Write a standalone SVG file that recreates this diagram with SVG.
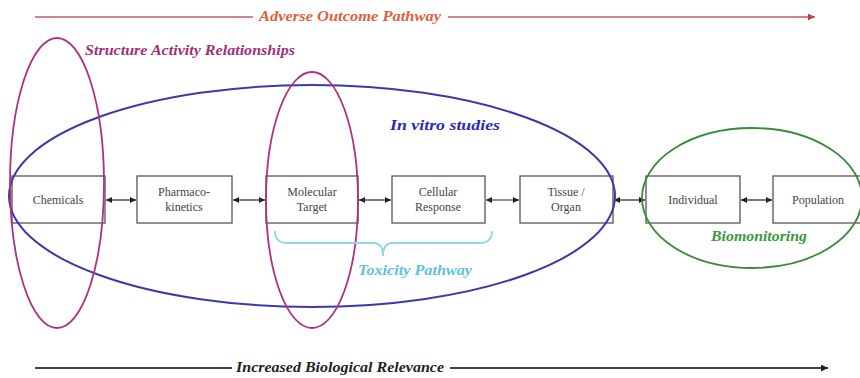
<svg xmlns="http://www.w3.org/2000/svg" width="860" height="378" viewBox="0 0 860 378">
<style>
.box{fill:#fff;stroke:#555;stroke-width:1.3}
.lbl{font-family:"Liberation Serif","Times New Roman","DejaVu Serif",serif;font-size:12px;fill:#444;text-anchor:middle}
.ttl{font-family:"Liberation Serif","Times New Roman","DejaVu Serif",serif;font-style:italic;font-weight:bold;font-size:14px}
.conn{stroke:#222;stroke-width:1.2;fill:none;marker-start:url(#as);marker-end:url(#ae)}
</style>
<defs>
<marker id="ae" viewBox="0 0 8 8" refX="8" refY="4" markerWidth="6" markerHeight="6" markerUnits="userSpaceOnUse" orient="auto"><path d="M0,0 L8,4 L0,8 z" fill="#222"/></marker>
<marker id="as" viewBox="0 0 8 8" refX="0" refY="4" markerWidth="6" markerHeight="6" markerUnits="userSpaceOnUse" orient="auto"><path d="M8,0 L0,4 L8,8 z" fill="#222"/></marker>
<marker id="ar" viewBox="0 0 8 8" refX="8" refY="4" markerWidth="7" markerHeight="7" markerUnits="userSpaceOnUse" orient="auto"><path d="M0,0 L8,4 L0,8 z" fill="#c8404a"/></marker>
<marker id="ak" viewBox="0 0 8 8" refX="8" refY="4" markerWidth="7" markerHeight="7" markerUnits="userSpaceOnUse" orient="auto"><path d="M0,0 L8,4 L0,8 z" fill="#222"/></marker>
</defs>
<rect width="860" height="378" fill="#fff"/>

<g id="aop">
<line x1="35" y1="17" x2="253" y2="17" stroke="#d4808a" stroke-width="2"/>
<line x1="448" y1="17" x2="815" y2="17" stroke="#d4808a" stroke-width="2" marker-end="url(#ar)"/>
<text x="350" y="21" class="ttl" fill="#e0603a" text-anchor="middle" textLength="182" lengthAdjust="spacingAndGlyphs">Adverse Outcome Pathway</text>
</g>

<g id="sar-label"><text x="190" y="55" class="ttl" fill="#a0307a" text-anchor="middle" textLength="210" lengthAdjust="spacingAndGlyphs">Structure Activity Relationships</text></g>

<g id="nodes">
<g id="chemicals"><rect class="box" x="12" y="176" width="93" height="47"/><text class="lbl" x="58" y="204">Chemicals</text></g>
<g id="pharmacokinetics"><rect class="box" x="137" y="176" width="95" height="47"/><text class="lbl" x="184" y="196">Pharmaco-</text><text class="lbl" x="184" y="211">kinetics</text></g>
<g id="molecular"><rect class="box" x="266" y="176" width="92" height="47"/><text class="lbl" x="312" y="196">Molecular</text><text class="lbl" x="312" y="211">Target</text></g>
<g id="cellular"><rect class="box" x="392" y="176" width="93" height="47"/><text class="lbl" x="438" y="196">Cellular</text><text class="lbl" x="438" y="211">Response</text></g>
<g id="tissue"><rect class="box" x="520" y="176" width="93" height="47"/><text class="lbl" x="566" y="196">Tissue /</text><text class="lbl" x="566" y="211">Organ</text></g>
<g id="individual"><rect class="box" x="646" y="176" width="94" height="47"/><text class="lbl" x="693" y="204">Individual</text></g>
<g id="population"><rect class="box" x="773" y="176" width="88" height="47"/><text class="lbl" x="818" y="204">Population</text></g>
</g>

<g id="connectors">
<line class="conn" x1="106" y1="200" x2="136" y2="200"/>
<line class="conn" x1="233" y1="200" x2="265" y2="200"/>
<line class="conn" x1="359" y1="200" x2="391" y2="200"/>
<line class="conn" x1="486" y1="200" x2="519" y2="200"/>
<line class="conn" x1="614" y1="200" x2="645" y2="200"/>
<line class="conn" x1="741" y1="200" x2="772" y2="200"/>
</g>

<g id="invitro">
<ellipse cx="312" cy="196" rx="303" ry="111" fill="none" stroke="#3a3aa8" stroke-width="2"/>
<text x="445" y="130" class="ttl" fill="#2a2ab8" text-anchor="middle" textLength="110" lengthAdjust="spacingAndGlyphs">In vitro studies</text>
</g>

<g id="sar-ellipses">
<ellipse cx="57" cy="183" rx="47" ry="145" fill="none" stroke="#b03080" stroke-width="1.8"/>
<ellipse cx="312" cy="200" rx="46" ry="128" fill="none" stroke="#b03080" stroke-width="1.8"/>
</g>

<g id="biomonitoring">
<ellipse cx="752" cy="198" rx="110" ry="70" fill="none" stroke="#3a8a3a" stroke-width="1.8"/>
<text x="759" y="241" class="ttl" fill="#3a9a3a" text-anchor="middle" textLength="96" lengthAdjust="spacingAndGlyphs">Biomonitoring</text>
</g>

<g id="toxicity">
<path d="M275,231 Q275,243 287,243 L373,243 Q383,243 383,256 Q383,243 393,243 L480,243 Q492,243 492,231" fill="none" stroke="#90d8e8" stroke-width="1.8"/>
<text x="415" y="275" class="ttl" fill="#5cc0e0" text-anchor="middle" textLength="114" lengthAdjust="spacingAndGlyphs">Toxicity Pathway</text>
</g>

<g id="relevance">
<line x1="35" y1="368" x2="232" y2="368" stroke="#444" stroke-width="2"/>
<line x1="450" y1="368" x2="828" y2="368" stroke="#444" stroke-width="2" marker-end="url(#ak)"/>
<text x="340" y="372" class="ttl" fill="#222" text-anchor="middle" textLength="208" lengthAdjust="spacingAndGlyphs">Increased Biological Relevance</text>
</g>
</svg>
